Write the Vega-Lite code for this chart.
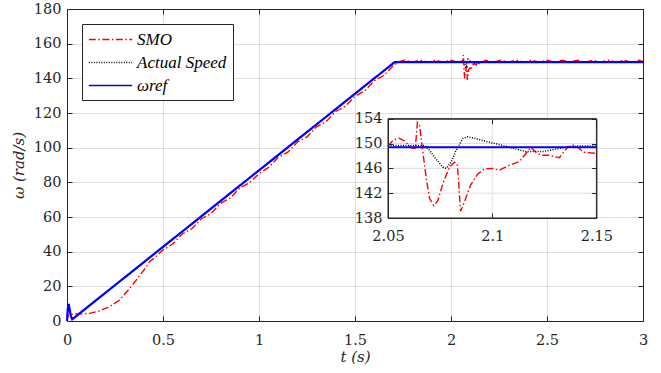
{
  "$schema": "https://vega.github.io/schema/vega-lite/v6.json",
  "width": 576,
  "height": 312,
  "autosize": {"type": "none"},
  "padding": {"left": 67, "top": 9, "right": 18, "bottom": 52},
  "background": "white",
  "config": {
    "view": {"stroke": null},
    "axis": {
      "domainColor": "#262626",
      "tickColor": "#262626",
      "labelColor": "#262626",
      "titleColor": "#262626",
      "labelFont": "DejaVu Serif",
      "titleFont": "DejaVu Serif",
      "labelFontSize": 14.5,
      "titleFontSize": 15,
      "titleFontWeight": "normal",
      "titleFontStyle": "italic",
      "labelFlush": false,
      "labelOverlap": false,
      "tickSize": -5,
      "gridColor": "#dedede",
      "gridOpacity": 1
    },
    "legend": {
      "orient": "top-left",
      "offset": 15,
      "fillColor": "white",
      "strokeColor": "#262626",
      "padding": 6,
      "symbolType": "M-1,0H4",
      "symbolSize": 300,
      "symbolStrokeWidth": 1.5,
      "labelFont": "Liberation Serif, Times New Roman, serif",
      "labelFontSize": 17,
      "labelFontStyle": "italic",
      "labelColor": "#000000",
      "labelOffset": 30,
      "rowPadding": 5
    }
  },
  "datasets": {
    "speed": [
      {"s": "SMO", "t": 0, "v": 0},
      {"s": "SMO", "t": 0.006, "v": 3.5},
      {"s": "SMO", "t": 0.04, "v": 4.0},
      {"s": "SMO", "t": 0.08, "v": 4.1},
      {"s": "SMO", "t": 0.118, "v": 4.4},
      {"s": "SMO", "t": 0.17, "v": 5.8},
      {"s": "SMO", "t": 0.222, "v": 8.3},
      {"s": "SMO", "t": 0.274, "v": 12.1},
      {"s": "SMO", "t": 0.326, "v": 18.8},
      {"s": "SMO", "t": 0.36, "v": 23.5},
      {"s": "SMO", "t": 0.379, "v": 26.5},
      {"s": "SMO", "t": 0.41, "v": 30.6},
      {"s": "SMO", "t": 0.43, "v": 34.2},
      {"s": "SMO", "t": 0.46, "v": 36.8},
      {"s": "SMO", "t": 0.5, "v": 41.0},
      {"s": "SMO", "t": 0.55, "v": 44.4},
      {"s": "SMO", "t": 0.6, "v": 50.2},
      {"s": "SMO", "t": 0.65, "v": 53.2},
      {"s": "SMO", "t": 0.7, "v": 59.0},
      {"s": "SMO", "t": 0.75, "v": 62.0},
      {"s": "SMO", "t": 0.8, "v": 67.9},
      {"s": "SMO", "t": 0.85, "v": 70.9},
      {"s": "SMO", "t": 0.9, "v": 76.7},
      {"s": "SMO", "t": 0.95, "v": 79.7},
      {"s": "SMO", "t": 1.0, "v": 85.0},
      {"s": "SMO", "t": 1.05, "v": 88.6},
      {"s": "SMO", "t": 1.1, "v": 94.4},
      {"s": "SMO", "t": 1.15, "v": 97.4},
      {"s": "SMO", "t": 1.2, "v": 103.2},
      {"s": "SMO", "t": 1.25, "v": 106.2},
      {"s": "SMO", "t": 1.3, "v": 112.0},
      {"s": "SMO", "t": 1.35, "v": 115.1},
      {"s": "SMO", "t": 1.4, "v": 120.9},
      {"s": "SMO", "t": 1.45, "v": 123.9},
      {"s": "SMO", "t": 1.5, "v": 129.7},
      {"s": "SMO", "t": 1.55, "v": 132.7},
      {"s": "SMO", "t": 1.6, "v": 138.5},
      {"s": "SMO", "t": 1.65, "v": 141.6},
      {"s": "SMO", "t": 1.7, "v": 147.4},
      {"s": "SMO", "t": 1.73, "v": 149.6},
      {"s": "SMO", "t": 1.76, "v": 150.5},
      {"s": "SMO", "t": 1.8, "v": 149.3},
      {"s": "SMO", "t": 1.84, "v": 150.5},
      {"s": "SMO", "t": 1.88, "v": 149.3},
      {"s": "SMO", "t": 1.92, "v": 150.5},
      {"s": "SMO", "t": 1.96, "v": 149.3},
      {"s": "SMO", "t": 2.0, "v": 150.5},
      {"s": "SMO", "t": 2.03, "v": 149.4},
      {"s": "SMO", "t": 2.05, "v": 149.6},
      {"s": "SMO", "t": 2.0524, "v": 150.5},
      {"s": "SMO", "t": 2.0551, "v": 150.9},
      {"s": "SMO", "t": 2.058, "v": 150.4},
      {"s": "SMO", "t": 2.0612, "v": 149.3},
      {"s": "SMO", "t": 2.0631, "v": 149.2},
      {"s": "SMO", "t": 2.0641, "v": 153.4},
      {"s": "SMO", "t": 2.0652, "v": 152.9},
      {"s": "SMO", "t": 2.0663, "v": 149.7},
      {"s": "SMO", "t": 2.0684, "v": 144.3},
      {"s": "SMO", "t": 2.07, "v": 141.1},
      {"s": "SMO", "t": 2.072, "v": 140.0},
      {"s": "SMO", "t": 2.0739, "v": 140.8},
      {"s": "SMO", "t": 2.0763, "v": 143.5},
      {"s": "SMO", "t": 2.0795, "v": 146.2},
      {"s": "SMO", "t": 2.0819, "v": 147.0},
      {"s": "SMO", "t": 2.0832, "v": 146.7},
      {"s": "SMO", "t": 2.0838, "v": 144.3},
      {"s": "SMO", "t": 2.0848, "v": 139.1},
      {"s": "SMO", "t": 2.0867, "v": 140.6},
      {"s": "SMO", "t": 2.0896, "v": 143.3},
      {"s": "SMO", "t": 2.0931, "v": 145.1},
      {"s": "SMO", "t": 2.0963, "v": 145.9},
      {"s": "SMO", "t": 2.1, "v": 146.0},
      {"s": "SMO", "t": 2.1034, "v": 145.7},
      {"s": "SMO", "t": 2.1082, "v": 146.5},
      {"s": "SMO", "t": 2.113, "v": 147.1},
      {"s": "SMO", "t": 2.1162, "v": 148.4},
      {"s": "SMO", "t": 2.1186, "v": 149.4},
      {"s": "SMO", "t": 2.121, "v": 148.6},
      {"s": "SMO", "t": 2.1234, "v": 148.1},
      {"s": "SMO", "t": 2.1274, "v": 148.1},
      {"s": "SMO", "t": 2.1322, "v": 147.7},
      {"s": "SMO", "t": 2.1361, "v": 149.4},
      {"s": "SMO", "t": 2.1385, "v": 149.8},
      {"s": "SMO", "t": 2.1409, "v": 149.4},
      {"s": "SMO", "t": 2.1441, "v": 148.6},
      {"s": "SMO", "t": 2.15, "v": 148.4},
      {"s": "SMO", "t": 2.18, "v": 150.5},
      {"s": "SMO", "t": 2.22, "v": 149.3},
      {"s": "SMO", "t": 2.26, "v": 150.5},
      {"s": "SMO", "t": 2.3, "v": 149.3},
      {"s": "SMO", "t": 2.34, "v": 150.5},
      {"s": "SMO", "t": 2.38, "v": 149.3},
      {"s": "SMO", "t": 2.42, "v": 150.5},
      {"s": "SMO", "t": 2.46, "v": 149.3},
      {"s": "SMO", "t": 2.5, "v": 150.5},
      {"s": "SMO", "t": 2.54, "v": 149.3},
      {"s": "SMO", "t": 2.58, "v": 150.5},
      {"s": "SMO", "t": 2.62, "v": 149.3},
      {"s": "SMO", "t": 2.66, "v": 150.5},
      {"s": "SMO", "t": 2.7, "v": 149.3},
      {"s": "SMO", "t": 2.74, "v": 150.5},
      {"s": "SMO", "t": 2.78, "v": 149.3},
      {"s": "SMO", "t": 2.82, "v": 150.5},
      {"s": "SMO", "t": 2.86, "v": 149.3},
      {"s": "SMO", "t": 2.9, "v": 150.5},
      {"s": "SMO", "t": 2.94, "v": 149.3},
      {"s": "SMO", "t": 2.98, "v": 150.5},
      {"s": "SMO", "t": 3.0, "v": 149.8},
      {"s": "Actual Speed", "t": 0, "v": 0},
      {"s": "Actual Speed", "t": 0.004, "v": 7},
      {"s": "Actual Speed", "t": 0.009, "v": 9.8},
      {"s": "Actual Speed", "t": 0.014, "v": 6.5},
      {"s": "Actual Speed", "t": 0.02, "v": 3},
      {"s": "Actual Speed", "t": 0.027, "v": 1},
      {"s": "Actual Speed", "t": 0.033, "v": 1.5},
      {"s": "Actual Speed", "t": 1.707, "v": 149.4},
      {"s": "Actual Speed", "t": 2.05, "v": 149.7},
      {"s": "Actual Speed", "t": 2.0644, "v": 149.7},
      {"s": "Actual Speed", "t": 2.0676, "v": 149.7},
      {"s": "Actual Speed", "t": 2.07, "v": 148.9},
      {"s": "Actual Speed", "t": 2.0723, "v": 147.8},
      {"s": "Actual Speed", "t": 2.0763, "v": 146.2},
      {"s": "Actual Speed", "t": 2.0779, "v": 146.0},
      {"s": "Actual Speed", "t": 2.0803, "v": 147.0},
      {"s": "Actual Speed", "t": 2.0827, "v": 148.9},
      {"s": "Actual Speed", "t": 2.0859, "v": 150.8},
      {"s": "Actual Speed", "t": 2.0883, "v": 151.1},
      {"s": "Actual Speed", "t": 2.0931, "v": 150.7},
      {"s": "Actual Speed", "t": 2.1, "v": 150.1},
      {"s": "Actual Speed", "t": 2.105, "v": 149.7},
      {"s": "Actual Speed", "t": 2.1114, "v": 149.1},
      {"s": "Actual Speed", "t": 2.1162, "v": 148.7},
      {"s": "Actual Speed", "t": 2.1242, "v": 148.7},
      {"s": "Actual Speed", "t": 2.1306, "v": 149.1},
      {"s": "Actual Speed", "t": 2.1353, "v": 149.4},
      {"s": "Actual Speed", "t": 2.1417, "v": 149.6},
      {"s": "Actual Speed", "t": 2.15, "v": 149.6},
      {"s": "Actual Speed", "t": 3.0, "v": 149.6},
      {"s": "ωref", "t": 0, "v": 0},
      {"s": "ωref", "t": 0.004, "v": 7},
      {"s": "ωref", "t": 0.009, "v": 9.8},
      {"s": "ωref", "t": 0.014, "v": 6.5},
      {"s": "ωref", "t": 0.02, "v": 3},
      {"s": "ωref", "t": 0.027, "v": 1},
      {"s": "ωref", "t": 0.033, "v": 1.5},
      {"s": "ωref", "t": 1.707, "v": 149.4},
      {"s": "ωref", "t": 2.05, "v": 149.4},
      {"s": "ωref", "t": 2.15, "v": 149.4},
      {"s": "ωref", "t": 3.0, "v": 149.4}
    ],
    "insetbox": [
      {"x1": 2.05, "x2": 2.15, "y1": 138, "y2": 154}
    ],
    "insetgrid": [
      {"x1": 2.1, "x2": 2.1, "y1": 138, "y2": 154},
      {"x1": 2.05, "x2": 2.15, "y1": 142, "y2": 142},
      {"x1": 2.05, "x2": 2.15, "y1": 146, "y2": 146},
      {"x1": 2.05, "x2": 2.15, "y1": 150, "y2": 150}
    ]
  },
  "resolve": {"scale": {"x": "independent", "y": "independent"}},
  "layer": [
    {
      "resolve": {"axis": {"x": "independent", "y": "independent"}},
      "layer": [
        {
          "data": {"name": "speed"},
          "mark": {"type": "point", "opacity": 0},
          "encoding": {
            "x": {"field": "t", "type": "quantitative", "scale": {"domain": [0, 3], "nice": false, "zero": false},
              "axis": {"orient": "bottom", "values": [0, 0.5, 1, 1.5, 2, 2.5, 3], "format": "~g", "grid": true, "labelPadding": 17, "labelFont": "DejaVu Serif", "titleFont": "DejaVu Serif", "title": "t (s)", "titlePadding": 3}},
            "y": {"field": "v", "type": "quantitative", "scale": {"domain": [0, 180], "nice": false, "zero": false},
              "axis": {"orient": "left", "values": [0, 20, 40, 60, 80, 100, 120, 140, 160, 180], "grid": true, "labelPadding": 11, "labelFont": "DejaVu Serif", "titleFont": "DejaVu Serif", "title": "ω (rad/s)", "titlePadding": 7}}
          }
        },
        {
          "data": {"name": "speed"},
          "mark": {"type": "point", "opacity": 0},
          "encoding": {
            "x": {"field": "t", "type": "quantitative", "scale": {"domain": [0, 3], "nice": false, "zero": false},
              "axis": {"orient": "top", "values": [0, 0.5, 1, 1.5, 2, 2.5, 3], "labels": false, "grid": false, "title": null}},
            "y": {"field": "v", "type": "quantitative", "scale": {"domain": [0, 180], "nice": false, "zero": false},
              "axis": {"orient": "right", "values": [0, 20, 40, 60, 80, 100, 120, 140, 160, 180], "labels": false, "grid": false, "title": null}}
          }
        },
        {
          "data": {"name": "speed"},
          "transform": [{"filter": {"field": "s", "equal": "SMO"}}],
          "mark": {"type": "line", "strokeWidth": 1.4},
          "encoding": {
            "x": {"field": "t", "type": "quantitative", "scale": {"domain": [0, 3], "nice": false, "zero": false}, "axis": null},
            "y": {"field": "v", "type": "quantitative", "scale": {"domain": [0, 180], "nice": false, "zero": false}, "axis": null},
            "color": {"field": "s", "type": "nominal", "scale": {"domain": ["SMO", "Actual Speed", "ωref"], "range": ["#ff0000", "#000000", "#0000ff"]}, "legend": {"title": null}},
            "strokeDash": {"field": "s", "type": "nominal", "scale": {"domain": ["SMO", "Actual Speed", "ωref"], "range": [[7, 2.5, 1.5, 2.5], [1, 1.5], [1, 0]]}, "legend": {"title": null}}
          }
        },
        {
          "data": {"name": "speed"},
          "transform": [{"filter": {"field": "s", "equal": "Actual Speed"}}],
          "mark": {"type": "line", "strokeWidth": 1.5},
          "encoding": {
            "x": {"field": "t", "type": "quantitative", "scale": {"domain": [0, 3], "nice": false, "zero": false}, "axis": null},
            "y": {"field": "v", "type": "quantitative", "scale": {"domain": [0, 180], "nice": false, "zero": false}, "axis": null},
            "color": {"field": "s", "type": "nominal", "scale": {"domain": ["SMO", "Actual Speed", "ωref"], "range": ["#ff0000", "#000000", "#0000ff"]}, "legend": {"title": null}},
            "strokeDash": {"field": "s", "type": "nominal", "scale": {"domain": ["SMO", "Actual Speed", "ωref"], "range": [[7, 2.5, 1.5, 2.5], [1, 1.5], [1, 0]]}, "legend": {"title": null}}
          }
        },
        {
          "data": {"name": "speed"},
          "transform": [{"filter": {"field": "s", "equal": "ωref"}}],
          "mark": {"type": "line", "strokeWidth": 2.2},
          "encoding": {
            "x": {"field": "t", "type": "quantitative", "scale": {"domain": [0, 3], "nice": false, "zero": false}, "axis": null},
            "y": {"field": "v", "type": "quantitative", "scale": {"domain": [0, 180], "nice": false, "zero": false}, "axis": null},
            "color": {"field": "s", "type": "nominal", "scale": {"domain": ["SMO", "Actual Speed", "ωref"], "range": ["#ff0000", "#000000", "#0000ff"]}, "legend": {"title": null}},
            "strokeDash": {"field": "s", "type": "nominal", "scale": {"domain": ["SMO", "Actual Speed", "ωref"], "range": [[7, 2.5, 1.5, 2.5], [1, 1.5], [1, 0]]}, "legend": {"title": null}}
          }
        }
      ]
    },
    {
      "resolve": {"axis": {"x": "independent", "y": "independent"}},
      "layer": [
        {
          "data": {"name": "insetbox"},
          "mark": {"type": "rect", "fill": "white", "stroke": "#262626", "strokeWidth": 1},
          "encoding": {
            "x": {"field": "x1", "type": "quantitative", "scale": {"domain": [2.05, 2.15], "range": [321, 529.4], "nice": false, "zero": false},
              "axis": {"orient": "bottom", "offset": -103, "values": [2.05, 2.1, 2.15], "format": "~g", "grid": false, "labelPadding": 16, "labelFont": "DejaVu Serif", "title": null, "zindex": 1}},
            "x2": {"field": "x2"},
            "y": {"field": "y1", "type": "quantitative", "scale": {"domain": [138, 154], "range": [209, 109.7], "nice": false, "zero": false},
              "axis": {"orient": "left", "offset": -321, "values": [138, 142, 146, 150, 154], "grid": false, "labelPadding": 11, "labelFont": "DejaVu Serif", "title": null, "zindex": 1}},
            "y2": {"field": "y2"}
          }
        },
        {
          "data": {"name": "insetbox"},
          "mark": {"type": "point", "opacity": 0},
          "encoding": {
            "x": {"field": "x1", "type": "quantitative", "scale": {"domain": [2.05, 2.15], "range": [321, 529.4], "nice": false, "zero": false},
              "axis": {"orient": "top", "offset": -109.7, "values": [2.05, 2.1, 2.15], "labels": false, "grid": false, "title": null, "zindex": 1}},
            "y": {"field": "y1", "type": "quantitative", "scale": {"domain": [138, 154], "range": [209, 109.7], "nice": false, "zero": false},
              "axis": {"orient": "right", "offset": -46.6, "values": [138, 142, 146, 150, 154], "labels": false, "grid": false, "title": null, "zindex": 1}}
          }
        },
        {
          "data": {"name": "insetgrid"},
          "mark": {"type": "rule", "color": "#dedede", "strokeWidth": 1},
          "encoding": {
            "x": {"field": "x1", "type": "quantitative", "scale": {"domain": [2.05, 2.15], "range": [321, 529.4], "nice": false, "zero": false}, "axis": null},
            "x2": {"field": "x2"},
            "y": {"field": "y1", "type": "quantitative", "scale": {"domain": [138, 154], "range": [209, 109.7], "nice": false, "zero": false}, "axis": null},
            "y2": {"field": "y2"}
          }
        },
        {
          "data": {"name": "speed"},
          "transform": [{"filter": {"field": "s", "equal": "SMO"}}, {"filter": {"field": "t", "range": [2.05, 2.15]}}],
          "mark": {"type": "line", "strokeWidth": 1.4},
          "encoding": {
            "x": {"field": "t", "type": "quantitative", "scale": {"domain": [2.05, 2.15], "range": [321, 529.4], "nice": false, "zero": false}, "axis": null},
            "y": {"field": "v", "type": "quantitative", "scale": {"domain": [138, 154], "range": [209, 109.7], "nice": false, "zero": false}, "axis": null},
            "color": {"field": "s", "type": "nominal", "scale": {"domain": ["SMO", "Actual Speed", "ωref"], "range": ["#ff0000", "#000000", "#0000ff"]}, "legend": {"title": null}},
            "strokeDash": {"field": "s", "type": "nominal", "scale": {"domain": ["SMO", "Actual Speed", "ωref"], "range": [[7, 2.5, 1.5, 2.5], [1, 1.5], [1, 0]]}, "legend": {"title": null}}
          }
        },
        {
          "data": {"name": "speed"},
          "transform": [{"filter": {"field": "s", "equal": "Actual Speed"}}, {"filter": {"field": "t", "range": [2.05, 2.15]}}],
          "mark": {"type": "line", "strokeWidth": 1.5},
          "encoding": {
            "x": {"field": "t", "type": "quantitative", "scale": {"domain": [2.05, 2.15], "range": [321, 529.4], "nice": false, "zero": false}, "axis": null},
            "y": {"field": "v", "type": "quantitative", "scale": {"domain": [138, 154], "range": [209, 109.7], "nice": false, "zero": false}, "axis": null},
            "color": {"field": "s", "type": "nominal", "scale": {"domain": ["SMO", "Actual Speed", "ωref"], "range": ["#ff0000", "#000000", "#0000ff"]}, "legend": {"title": null}},
            "strokeDash": {"field": "s", "type": "nominal", "scale": {"domain": ["SMO", "Actual Speed", "ωref"], "range": [[7, 2.5, 1.5, 2.5], [1, 1.5], [1, 0]]}, "legend": {"title": null}}
          }
        },
        {
          "data": {"name": "speed"},
          "transform": [{"filter": {"field": "s", "equal": "ωref"}}, {"filter": {"field": "t", "range": [2.05, 2.15]}}],
          "mark": {"type": "line", "strokeWidth": 1.8},
          "encoding": {
            "x": {"field": "t", "type": "quantitative", "scale": {"domain": [2.05, 2.15], "range": [321, 529.4], "nice": false, "zero": false}, "axis": null},
            "y": {"field": "v", "type": "quantitative", "scale": {"domain": [138, 154], "range": [209, 109.7], "nice": false, "zero": false}, "axis": null},
            "color": {"field": "s", "type": "nominal", "scale": {"domain": ["SMO", "Actual Speed", "ωref"], "range": ["#ff0000", "#000000", "#0000ff"]}, "legend": {"title": null}},
            "strokeDash": {"field": "s", "type": "nominal", "scale": {"domain": ["SMO", "Actual Speed", "ωref"], "range": [[7, 2.5, 1.5, 2.5], [1, 1.5], [1, 0]]}, "legend": {"title": null}}
          }
        }
      ]
    }
  ]
}
